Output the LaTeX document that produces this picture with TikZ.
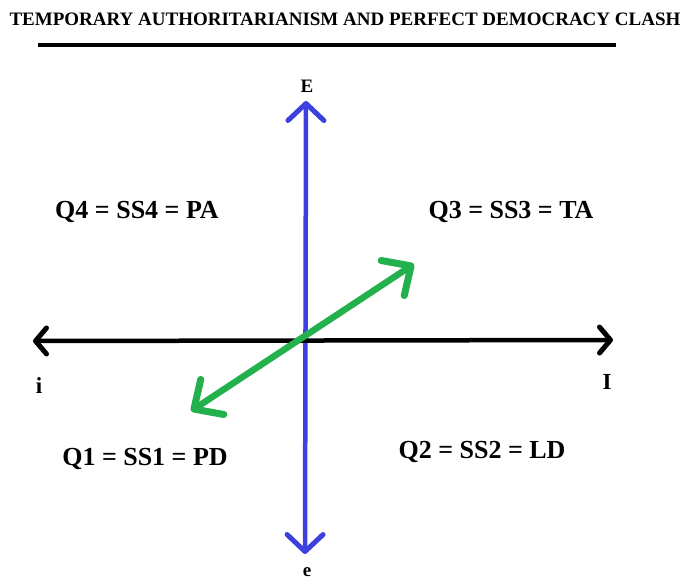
\documentclass[tikz,border=0pt]{standalone}
\usepackage{fontspec}
\setmainfont{Liberation Serif}
\usetikzlibrary{arrows.meta}
\definecolor{axblue}{RGB}{60,64,222}
\definecolor{paintgreen}{RGB}{34,177,76}
\begin{document}
\begin{tikzpicture}[x=1pt,y=-1pt,
  lbl/.style={font=\bfseries\fontsize{26}{28}\selectfont, inner sep=0pt},
  axlbl/.style={font=\bfseries\fontsize{19}{21}\selectfont, inner sep=0pt},
  axlblb/.style={font=\bfseries\fontsize{23}{25}\selectfont, inner sep=0pt},
  bluetip/.style={{Straight Barb[length=17pt,width=36pt,line width=5pt,round]}-{Straight Barb[length=17pt,width=36pt,line width=5pt,round]}},
  blacktip/.style={{Straight Barb[length=11pt,width=26pt,line width=5pt,round]}-{Straight Barb[length=11pt,width=26pt,line width=5pt,round]}},
  greentip/.style={{Straight Barb[length=22pt,width=42pt,line width=7pt,round]}-{Straight Barb[length=22pt,width=42pt,line width=7pt,round]}}]
\useasboundingbox (0,0) rectangle (685,580);
\node[font=\bfseries\fontsize{19}{21}\selectfont, inner sep=0pt] (title) at (345,19) {TEMPORARY AUTHORITARIANISM AND PERFECT DEMOCRACY CLASH};
\coordinate (ul1) at (38,45);
\coordinate (ul2) at (616,45);
\draw[line width=3.5pt] (ul1) -- (ul2);
% axes
\coordinate (Etip) at (306,101);
\coordinate (etip) at (305,554);
\coordinate (itip) at (33,341);
\coordinate (Itip) at (613,340);
\draw[axblue, line width=4.5pt, bluetip] (etip) -- (Etip);
\draw[black, line width=4.5pt, blacktip] (itip) -- (Itip);
\coordinate (g1) at (191,411);
\coordinate (g2) at (414,264);
\draw[paintgreen, line width=6.5pt, greentip] (g1) -- (g2);
\node[axlbl] (E) at (307,86) {E};
\node[axlbl] (e) at (307,572) {e};
\node[axlblb] (i) at (39,386) {i};
\node[axlblb] (I) at (607,382) {I};
\node[lbl] (q4) at (137,212) {Q4 = SS4 = PA};
\node[lbl] (q3) at (511,212) {Q3 = SS3 = TA};
\node[lbl] (q1) at (145,459) {Q1 = SS1 = PD};
\node[lbl] (q2) at (482,452) {Q2 = SS2 = LD};
\end{tikzpicture}
\end{document}
